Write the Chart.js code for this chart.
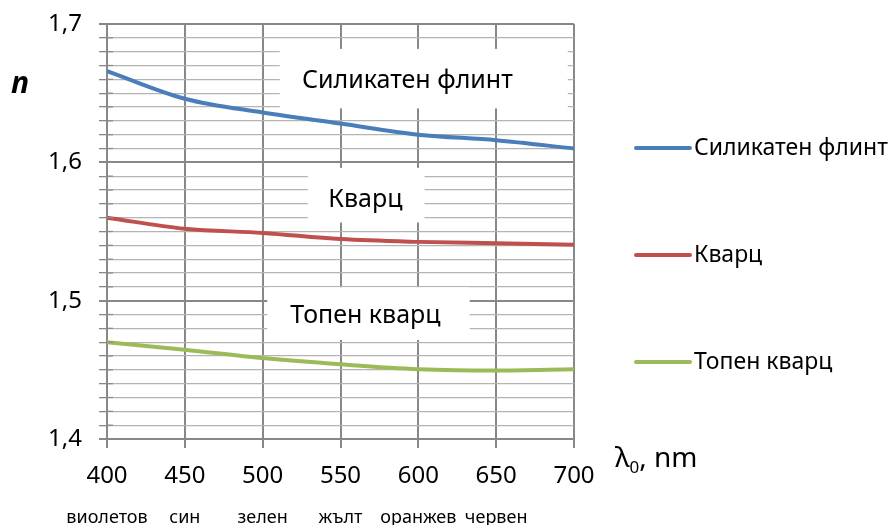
<!DOCTYPE html>
<html>
<head>
<meta charset="utf-8">
<script src="https://cdn.jsdelivr.net/npm/chart.js@4"></script>
<style>
  html, body { margin: 0; padding: 0; background: #fff; }
  #wrap { width: 889px; height: 525px; position: relative; }
</style>
</head>
<body>
<div id="wrap"><canvas id="chart"></canvas></div>
<script>
'use strict';

// refractive index vs wavelength (nm)
const wavelengths = [400, 450, 500, 550, 600, 650, 700];
const flintValues = [1.666, 1.646, 1.636, 1.628, 1.620, 1.616, 1.610];
const quartzValues = [1.560, 1.552, 1.549, 1.5445, 1.5425, 1.5415, 1.5405];
const fusedValues = [1.470, 1.4645, 1.4585, 1.454, 1.4505, 1.4495, 1.4505];
const seriesNames = ['Силикатен флинт', 'Кварц', 'Топен кварц'];
const seriesColors = ['#4a7ebb', '#c0504d', '#9bbb59'];
const colourNames = ['виолетов', 'син', 'зелен', 'жълт', 'оранжев', 'червен', ''];
const yMajorTicks = [1.4, 1.5, 1.6, 1.7];

const FONT = '"Noto Sans", sans-serif';
Chart.defaults.font.family = FONT;
Chart.defaults.color = '#000';

function isMajor(v) {
  return yMajorTicks.some(m => Math.abs(m - v) < 1e-6);
}

function toPoints(values) {
  return wavelengths.map((w, i) => ({ x: w, y: values[i] }));
}

// labels sitting on white boxes inside the plot (data coords)
const notes = [
  { text: seriesNames[0], x1: 511, x2: 696, y1: 1.682, y2: 1.639, tx: 593, ty: 1.659 },
  { text: seriesNames[1], x1: 529, x2: 604, y1: 1.596, y2: 1.5565, tx: 566, ty: 1.573 },
  { text: seriesNames[2], x1: 503, x2: 633, y1: 1.5097, y2: 1.4716, tx: 566, ty: 1.489 }
];

const notesPlugin = {
  id: 'notes',
  beforeDatasetsDraw(chart) {
    const { ctx, scales: { x, y } } = chart;
    ctx.save();
    for (let n of notes) {
      const l = x.getPixelForValue(n.x1), r = x.getPixelForValue(n.x2);
      const t = y.getPixelForValue(n.y1), b = y.getPixelForValue(n.y2);
      ctx.fillStyle = '#fff';
      ctx.fillRect(l, t, r - l, b - t);
      ctx.fillStyle = '#000';
      ctx.font = '25px ' + FONT;
      ctx.textAlign = 'center';
      ctx.textBaseline = 'middle';
      ctx.fillText(n.text, x.getPixelForValue(n.tx), y.getPixelForValue(n.ty));
    }
    ctx.restore();
  },
  afterDraw(chart) {
    const { ctx, chartArea, scales: { y } } = chart;
    ctx.save();
    // minor tick marks crossing into the plot
    ctx.strokeStyle = '#8c8c8c';
    ctx.lineWidth = 1.3;
    for (let tk of y.ticks) {
      if (isMajor(tk.value)) continue;
      const py = y.getPixelForValue(tk.value);
      ctx.beginPath();
      ctx.moveTo(chartArea.left, py);
      ctx.lineTo(chartArea.left + 6, py);
      ctx.stroke();
    }

    // legend
    const legendY = [148, 255, 362];
    const lx = chartArea.right + 62;
    chart.data.datasets.forEach((ds, i) => {
      ctx.strokeStyle = ds.borderColor;
      ctx.lineWidth = 4;
      ctx.lineCap = 'round';
      ctx.beginPath();
      ctx.moveTo(lx, legendY[i]);
      ctx.lineTo(lx + 54, legendY[i]);
      ctx.stroke();
      ctx.fillStyle = '#000';
      ctx.font = '23px ' + FONT;
      ctx.textAlign = 'left';
      ctx.textBaseline = 'middle';
      ctx.fillText(ds.label, lx + 58, legendY[i]);
    });

    // axis titles
    ctx.fillStyle = '#000';
    ctx.font = 'italic bold 30px ' + FONT;
    ctx.textAlign = 'left';
    ctx.textBaseline = 'alphabetic';
    ctx.fillText('n', 11, 93);

    let tx = chartArea.right + 41;
    const ty = chartArea.bottom + 28;
    ctx.font = '28px ' + FONT;
    ctx.fillText('λ', tx, ty);
    tx += ctx.measureText('λ').width;
    ctx.font = '17px ' + FONT;
    ctx.fillText('0', tx, ty + 6);
    tx += ctx.measureText('0').width;
    ctx.font = '28px ' + FONT;
    ctx.fillText(', nm', tx, ty);
    ctx.restore();
  }
};

new Chart(document.getElementById('chart'), {
  type: 'line',
  data: {
    datasets: [
      { label: seriesNames[0], data: toPoints(flintValues), borderColor: seriesColors[0] },
      { label: seriesNames[1], data: toPoints(quartzValues), borderColor: seriesColors[1] },
      { label: seriesNames[2], data: toPoints(fusedValues), borderColor: seriesColors[2] }
    ]
  },
  options: {
    responsive: true,
    maintainAspectRatio: false,
    animation: false,
    layout: { padding: { top: 24, right: 315, left: 0, bottom: 0 } },
    elements: {
      line: { borderWidth: 4, cubicInterpolationMode: 'monotone', fill: false },
      point: { radius: 0, hoverRadius: 0 }
    },
    plugins: {
      legend: { display: false },
      tooltip: { enabled: false }
    },
    scales: {
      x: {
        type: 'linear',
        min: 400,
        max: 700,
        weight: 0,
        ticks: { stepSize: 50, autoSkip: false, font: { size: 24 }, padding: 14 },
        grid: { color: '#888', lineWidth: 2, tickLength: 9 },
        border: { color: '#888', width: 2 },
        afterFit: s => { s.height = 52; }
      },
      x2: {
        type: 'linear',
        position: 'bottom',
        min: 400,
        max: 700,
        weight: 1,
        ticks: {
          stepSize: 50,
          autoSkip: false,
          maxRotation: 0,
          font: { size: 18 },
          padding: 16,
          callback: v => colourNames[wavelengths.indexOf(v)] || ''
        },
        grid: { display: false, drawTicks: false },
        border: { display: false },
        afterFit: s => { s.height = 34; }
      },
      y: {
        min: 1.4,
        max: 1.7,
        ticks: {
          stepSize: 0.01,
          autoSkip: false,
          font: { size: 24 },
          padding: 17,
          callback: v => isMajor(v) ? v.toFixed(1).replace('.', ',') : ''
        },
        grid: {
          color: c => isMajor(c.tick.value) ? '#888' : '#b4b4b4',
          lineWidth: c => isMajor(c.tick.value) ? 2 : 1.3,
          tickColor: '#888',
          tickLength: 8
        },
        border: { color: '#888', width: 2 },
        afterFit: s => { s.width = 107; s.paddingTop = 0; s.paddingBottom = 0; }
      }
    }
  },
  plugins: [notesPlugin]
});
</script>
</body>
</html>
